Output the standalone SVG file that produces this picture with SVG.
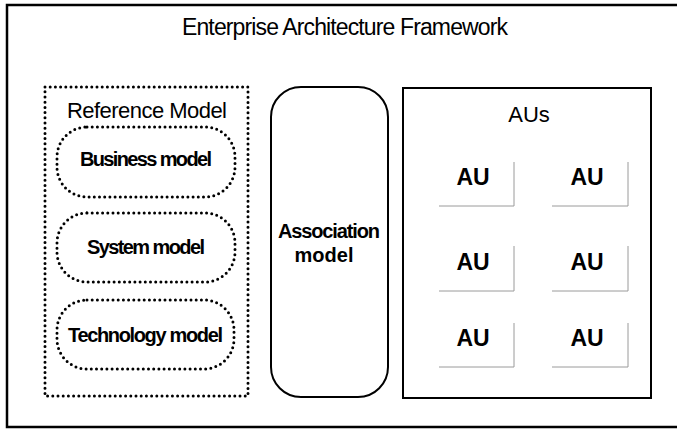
<svg xmlns="http://www.w3.org/2000/svg" width="677" height="431" viewBox="0 0 677 431">
  <style>
    .frame { fill: #ffffff; stroke: #000000; stroke-width: 2.5; }
    .solid { fill: none; stroke: #000000; stroke-width: 2; }
    .dotted { fill: none; stroke: #000000; stroke-width: 3; stroke-dasharray: 0 5.2; stroke-linecap: round; }
    .au-edge { fill: none; stroke: #9a9a9a; stroke-width: 1; }
    .label { font-family: "Liberation Sans", Arial, sans-serif; fill: #000000; text-anchor: middle; }
    .bold { font-weight: bold; }
  </style>

  <!-- outer framework frame (right edge runs past the canvas) -->
  <g id="framework">
    <rect class="frame" x="7" y="5" width="700" height="422"/>
    <text class="label" x="345" y="35" font-size="23" textLength="326" lengthAdjust="spacing">Enterprise Architecture Framework</text>
  </g>

  <!-- reference model with its three sub-models -->
  <g id="reference-model">
    <rect class="dotted" x="45" y="87" width="203" height="309"/>
    <text class="label" x="147" y="118" font-size="22" textLength="160" lengthAdjust="spacing">Reference Model</text>
  </g>
  <g id="business-model">
    <rect class="dotted" x="57" y="127" width="178" height="70" rx="30" ry="30"/>
    <text class="label bold" x="146" y="166" font-size="20" textLength="132" lengthAdjust="spacing">Business model</text>
  </g>
  <g id="system-model">
    <rect class="dotted" x="57" y="213" width="178" height="69" rx="30" ry="30"/>
    <text class="label bold" x="146" y="254" font-size="20" textLength="118" lengthAdjust="spacing">System model</text>
  </g>
  <g id="technology-model">
    <rect class="dotted" x="57" y="300" width="177" height="69" rx="30" ry="30"/>
    <text class="label bold" x="145.5" y="342" font-size="20" textLength="155" lengthAdjust="spacing">Technology model</text>
  </g>

  <!-- association model -->
  <g id="association-model">
    <rect class="solid" x="271" y="87" width="117" height="310" rx="30" ry="30"/>
    <text class="label bold" x="329" y="238" font-size="20" textLength="102" lengthAdjust="spacing">Association</text>
    <text class="label bold" x="324" y="262" font-size="20">model</text>
  </g>

  <!-- AU container -->
  <g id="aus">
    <rect class="solid" x="403" y="88" width="248" height="310"/>
    <text class="label" x="529" y="122" font-size="22">AUs</text>
  </g>
  <g id="au-1-1">
    <path class="au-edge" d="M439,206 H514 V162"/>
    <text class="label bold" x="473" y="185" font-size="23">AU</text>
  </g>
  <g id="au-1-2">
    <path class="au-edge" d="M552,206 H628 V162"/>
    <text class="label bold" x="587" y="185" font-size="23">AU</text>
  </g>
  <g id="au-2-1">
    <path class="au-edge" d="M439,291 H514 V246"/>
    <text class="label bold" x="473" y="270" font-size="23">AU</text>
  </g>
  <g id="au-2-2">
    <path class="au-edge" d="M552,291 H628 V246"/>
    <text class="label bold" x="587" y="270" font-size="23">AU</text>
  </g>
  <g id="au-3-1">
    <path class="au-edge" d="M439,367 H514 V323"/>
    <text class="label bold" x="473" y="346" font-size="23">AU</text>
  </g>
  <g id="au-3-2">
    <path class="au-edge" d="M552,367 H628 V323"/>
    <text class="label bold" x="587" y="346" font-size="23">AU</text>
  </g>

  <g id="connectors"/>
</svg>
